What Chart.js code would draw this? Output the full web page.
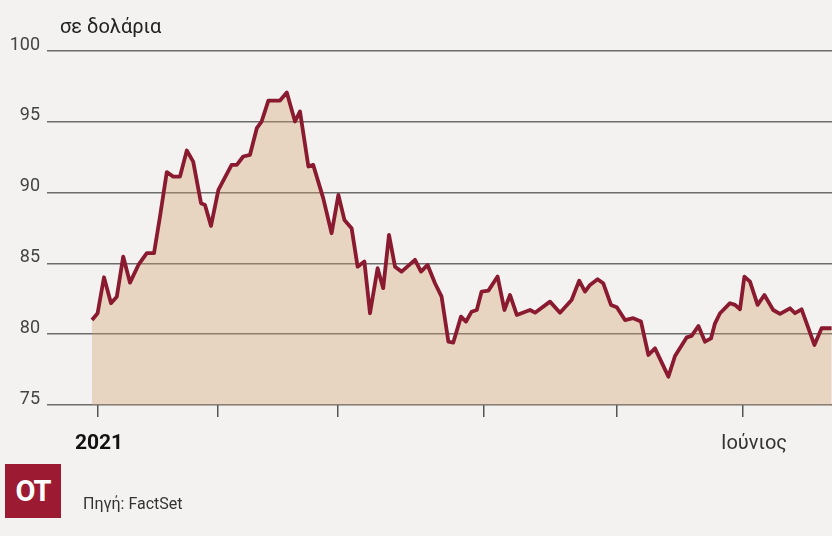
<!DOCTYPE html>
<html lang="el">
<head>
  <meta charset="UTF-8">
  <title>σε δολάρια</title>
  <script src="https://cdn.jsdelivr.net/npm/chart.js"></script>
  <style>
    body { margin: 0; background: #f3f2f0; font-family: Roboto, "Noto Sans", sans-serif; }
    .wrap { position: relative; width: 832px; height: 536px; }
    .unit { position: absolute; left: 60px; top: 14px; font-size: 20px; color: #222; }
    .logo { position: absolute; left: 5px; top: 464px; width: 56px; height: 54px; background: #9c1b32;
            color: #fff; font-weight: bold; font-size: 29px; line-height: 54px; text-align: center; letter-spacing: -1px; }
    .source { position: absolute; left: 83px; top: 494px; font-size: 16px; color: #333; }
  </style>
</head>
<body>
  <div class="wrap">
    <canvas id="oilChart"></canvas>
    <div class="unit">σε δολάρια</div>
    <div class="logo">OT</div>
    <div class="source">Πηγή: FactSet</div>
  </div>

  <script>
    // trading days (from start of 2021) and price in dollars
    const days = [0, 1.4, 3, 4.75, 6.2, 7.8, 9.5, 11.6, 13.7, 15.5, 17, 18.7, 20.3, 22, 23.7, 25.3, 27.25, 28.25, 29.75,
      31.6, 34.9, 36.2, 37.8, 39.5, 41.2, 42.4, 44.1, 47, 48.7, 50.75, 52, 54.1, 55.3, 57.8, 59.9, 61.6, 63.1, 64.9,
      66.4, 68.1, 69.5, 71.4, 72.8, 74.25, 75.75, 77.4, 80.75, 82.25, 83.9, 85.75, 87.4, 89.1, 90.3, 92.25, 93.5,
      94.9, 96.2, 97.4, 99.1, 101.4, 103.1, 104.5, 106.2, 109.5, 110.75, 114.5, 117, 119.9, 121.8, 123.25, 124.5,
      126.4, 127.8, 129.75, 131.2, 133.25, 135.3, 137.25, 139.1, 140.75, 144.1, 145.75, 148.7, 149.9, 151.6, 153.25,
      154.75, 155.75, 157, 159.5, 160.75, 162, 163.1, 164.5, 166.4, 168.1, 170.3, 172, 174.5, 175.75, 177.4, 180.6,
      182.4, 184.9];
    const prices = [81.0, 81.48, 84.02, 82.19, 82.65, 85.48, 83.64, 84.89, 85.72, 85.72, 88.31, 91.45, 91.13, 91.13,
      92.97, 92.19, 89.25, 89.13, 87.65, 90.19, 91.96, 91.96, 92.55, 92.67, 94.55, 95.02, 96.5, 96.5, 97.07, 95.02,
      95.73, 91.84, 91.96, 89.61, 87.13, 89.84, 88.07, 87.49, 84.77, 85.13, 81.48, 84.66, 83.25, 87.01, 84.77, 84.42,
      85.25, 84.42, 84.89, 83.6, 82.65, 79.47, 79.4, 81.24, 80.89, 81.59, 81.71, 83.01, 83.08, 84.07, 81.71, 82.77,
      81.36, 81.71, 81.52, 82.3, 81.52, 82.42, 83.78, 83.01, 83.48, 83.88, 83.6, 82.07, 81.9, 81.0, 81.13, 80.89,
      78.53, 79.0, 77.0, 78.46, 79.78, 79.88, 80.58, 79.47, 79.7, 80.77, 81.48, 82.19, 82.07, 81.76, 84.07, 83.71,
      82.07, 82.77, 81.71, 81.43, 81.83, 81.48, 81.76, 79.24, 80.42, 80.42];

    const tickDays = [1.5, 31.5, 61.5, 98, 131.25, 162.75];
    const tickLabels = ['2021', '', '', '', '', 'Ιούνιος'];
    const yTicks = [75, 80, 85, 90, 95, 100];

    const points = days.map((d, i) => ({ x: d, y: prices[i] }));

    // x labels drawn under the tick marks
    const xLabels = {
      id: 'xLabels',
      afterDraw(chart) {
        const ctx = chart.ctx;
        const xs = chart.scales.x;
        ctx.save();
        ctx.textAlign = 'center';
        ctx.textBaseline = 'alphabetic';
        tickLabels.forEach((lab, i) => {
          if (!lab) return;
          const first = i === 0;
          ctx.font = first ? 'bold 21px Roboto' : '20px Roboto';
          ctx.fillStyle = first ? '#111' : '#333';
          const px = xs.getPixelForValue(tickDays[i]) + (first ? 1 : 11);
          ctx.fillText(lab, px, 449);
        });
        ctx.restore();
      }
    };

    new Chart(document.getElementById('oilChart'), {
      type: 'line',
      data: {
        datasets: [{
          data: points,
          borderColor: '#891a2f',
          borderWidth: 3.8,
          borderJoinStyle: 'round',
          backgroundColor: 'rgba(212, 158, 112, 0.36)',
          fill: 'start',
          pointRadius: 0,
          tension: 0
        }]
      },
      options: {
        responsive: true,
        maintainAspectRatio: false,
        animation: false,
        layout: { padding: { top: 51 } },
        plugins: { legend: { display: false }, tooltip: { enabled: false } },
        scales: {
          x: {
            type: 'linear',
            min: -11.25,
            max: 185,
            afterBuildTicks: (scale) => { scale.ticks = tickDays.map(v => ({ value: v })); },
            afterFit: (scale) => { scale.height = 131; },
            grid: { drawOnChartArea: false, drawTicks: true, tickLength: 12, color: '#555', lineWidth: 1.5 },
            border: { display: false },
            ticks: { display: false }
          },
          y: {
            min: 75,
            max: 100,
            afterBuildTicks: (scale) => { scale.ticks = yTicks.map(v => ({ value: v })); },
            afterFit: (scale) => { scale.width = 47; },
            grid: { drawTicks: false, color: '#6c6c6c', lineWidth: 1.5 },
            border: { display: false },
            ticks: { padding: 7, labelOffset: -6, color: '#444', font: { family: 'Roboto', size: 18 } }
          }
        }
      },
      plugins: [xLabels]
    });
  </script>
</body>
</html>
